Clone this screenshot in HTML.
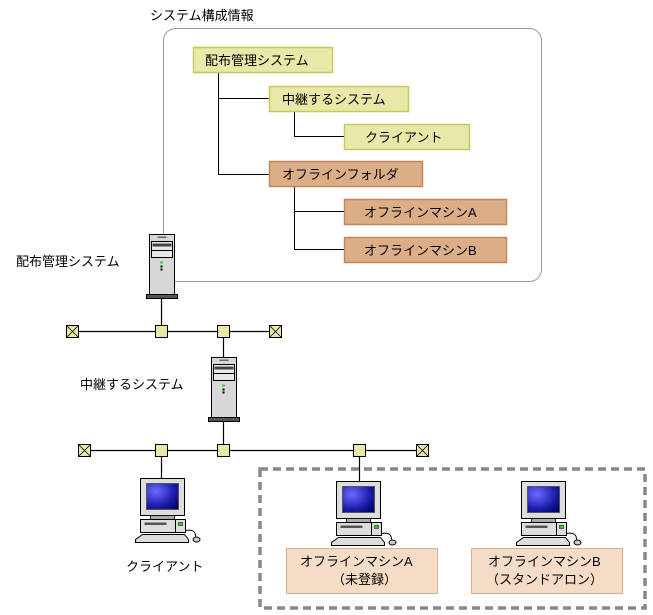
<!DOCTYPE html>
<html><head><meta charset="utf-8"><style>
html,body{margin:0;padding:0;background:#fff;}
svg{display:block;}
text{font-family:"Liberation Sans","Noto Sans CJK JP",sans-serif;font-size:13px;fill:#000;}
</style></head><body>
<svg width="653" height="615" viewBox="0 0 653 615" xmlns="http://www.w3.org/2000/svg">
<defs>
<radialGradient id="scr" cx="0.3" cy="0.3" r="0.9">
<stop offset="0" stop-color="#6a6aff"/><stop offset="0.6" stop-color="#2020b0"/><stop offset="1" stop-color="#000060"/>
</radialGradient>
<g id="srv">
<rect x="0" y="0" width="25" height="60" fill="#d8d8d8" stroke="#000" stroke-width="1"/>
<rect x="-3" y="60" width="31" height="4" fill="#555" stroke="#000" stroke-width="1"/>
<rect x="8" y="2" width="9" height="1.5" fill="#666"/>
<rect x="2" y="7" width="21" height="16" fill="#e8e8e8" stroke="#000" stroke-width="1"/>
<rect x="3" y="9" width="19" height="3" fill="#444"/>
<line x1="2" y1="16" x2="23" y2="16" stroke="#000"/>
<rect x="10.5" y="27" width="3" height="2" fill="#3c3"/>
<rect x="11" y="31" width="2" height="2" fill="#000"/>
<rect x="11" y="34" width="2" height="2" fill="#000"/>
</g>
<g id="pc">
<rect x="0" y="0" width="44" height="37" fill="#ddd" stroke="#000"/>
<rect x="6" y="5" width="32" height="26" fill="url(#scr)" stroke="#555"/>
<rect x="10" y="37" width="24" height="4" fill="#aaa" stroke="#000" stroke-width="0.8"/>
<rect x="0" y="41" width="45" height="13" fill="#ddd" stroke="#000"/>
<rect x="4" y="44" width="22" height="2.5" fill="#555"/>
<line x1="35" y1="41" x2="35" y2="54" stroke="#000"/>
<rect x="38" y="44" width="4" height="3" fill="#3c3" stroke="#000" stroke-width="0.5"/>
<path d="M2 56 L44 56 L48 61 L48 64 L-5 64 L-5 61 Z" fill="#ddd" stroke="#000"/>
<path d="M45 52 Q55 50 55 58" fill="none" stroke="#000"/>
<ellipse cx="56" cy="61" rx="3.5" ry="2.5" fill="#ccc" stroke="#000"/>
</g>
</defs>

<!-- system config box -->
<text x="150" y="20">システム構成情報</text>
<rect x="163.5" y="28.5" width="378" height="253" rx="12" fill="none" stroke="#999" stroke-width="1"/>

<g stroke="#000" stroke-width="1" fill="none">
<path d="M218.5 72 V174.5 H269 M218.5 98.5 H269"/>
<path d="M294.5 111 V136.5 H344"/>
<path d="M294.5 186 V249.5 H344 M294.5 211.5 H344"/>
</g>
<g stroke-width="1.5">
<rect x="193.5" y="47.5" width="139" height="25" fill="#e8e8a8" stroke="#c8c860"/>
<rect x="269.5" y="86.5" width="139" height="25" fill="#e8e8a8" stroke="#c8c860"/>
<rect x="344.5" y="124.5" width="125" height="25" fill="#e8e8a8" stroke="#c8c860"/>
<rect x="269.5" y="161.5" width="153" height="25" fill="#dcae88" stroke="#c08858"/>
<rect x="344.5" y="199.5" width="162" height="25" fill="#dcae88" stroke="#c08858"/>
<rect x="344.5" y="237.5" width="162" height="25" fill="#dcae88" stroke="#c08858"/>
</g>
<text x="205" y="65">配布管理システム</text>
<text x="282" y="104">中継するシステム</text>
<text x="365" y="142">クライアント</text>
<text x="282" y="179">オフラインフォルダ</text>
<text x="364" y="217">オフラインマシンA</text>
<text x="364" y="255">オフラインマシンB</text>

<!-- network 1 -->
<g stroke="#000" stroke-width="1.2">
<line x1="72" y1="331.5" x2="275" y2="331.5"/>
<line x1="161.5" y1="298" x2="161.5" y2="331"/>
<line x1="223.5" y1="331" x2="223.5" y2="357"/>
<line x1="84" y1="450.5" x2="422" y2="450.5"/>
<line x1="223.5" y1="420" x2="223.5" y2="450"/>
<line x1="161.5" y1="450" x2="161.5" y2="479"/>
<line x1="359.5" y1="450" x2="359.5" y2="481"/>
</g>
<use href="#srv" x="149.5" y="234.5"/>
<use href="#srv" x="211.5" y="357.5"/>
<text x="16" y="266">配布管理システム</text>
<text x="80" y="389">中継するシステム</text>

<g fill="#e8e8a8" stroke="#000" stroke-width="1">
<rect x="155.5" y="325.5" width="12" height="12"/>
<rect x="217.5" y="325.5" width="12" height="12"/>
<rect x="155.5" y="444.5" width="12" height="12"/>
<rect x="217.5" y="444.5" width="12" height="12"/>
<rect x="353.5" y="444.5" width="12" height="12"/>
<rect x="66.5" y="325.5" width="12" height="12"/>
<rect x="269.5" y="325.5" width="12" height="12"/>
<rect x="78.5" y="444.5" width="12" height="12"/>
<rect x="416.5" y="444.5" width="12" height="12"/>
</g>
<g stroke="#000" stroke-width="0.8">
<path d="M66.5 325.5 L78.5 337.5 M78.5 325.5 L66.5 337.5"/>
<path d="M269.5 325.5 L281.5 337.5 M281.5 325.5 L269.5 337.5"/>
<path d="M78.5 444.5 L90.5 456.5 M90.5 444.5 L78.5 456.5"/>
<path d="M416.5 444.5 L428.5 456.5 M428.5 444.5 L416.5 456.5"/>
</g>

<use href="#pc" x="140.5" y="478.5"/>
<use href="#pc" x="336.5" y="481.5"/>
<use href="#pc" x="521.5" y="481.5"/>
<text x="126" y="571">クライアント</text>

<rect x="260" y="469" width="385" height="139" fill="none" stroke="#888" stroke-width="3.5" stroke-dasharray="8,5"/>
<rect x="286.5" y="548.5" width="151" height="45" fill="#f5dcc6" stroke="#ddb08a"/>
<rect x="471.5" y="548.5" width="151" height="45" fill="#f5dcc6" stroke="#ddb08a"/>
<text x="300" y="566">オフラインマシンA</text>
<text x="332" y="584">（未登録）</text>
<text x="488" y="566">オフラインマシンB</text>
<text x="486" y="584">（スタンドアロン）</text>
</svg>
</body></html>
